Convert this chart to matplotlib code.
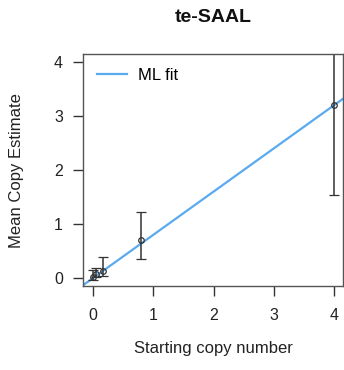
import numpy as np
import matplotlib
matplotlib.use('Agg')
from matplotlib import pyplot as plt

plt.rcParams['font.family'] = ['Liberation Sans', 'DejaVu Sans']

# data
start_copies = [0.0, 0.05, 0.16, 0.8, 4.0]
mean_est = [0.02, 0.07, 0.13, 0.7, 3.2]
err_low = [0.05, 0.06, 0.10, 0.35, 1.66]
err_high = [0.13, 0.11, 0.26, 0.52, 1.2]
fit_slope = 0.8
fit_intercept = 0.0

fig = plt.figure(figsize=(3.44, 3.70), dpi=100)
ax = fig.add_axes([83/344, 1-286/370, 260/344, 232/370])

xs = np.array([-0.5, 4.5])
ax.plot(xs, fit_intercept + fit_slope*xs, color='#5aaaf0', lw=1.6, label='ML fit')
ax.errorbar(start_copies, mean_est, yerr=[err_low, err_high], fmt='o', ms=4,
            mfc='none', mec='#333333', ecolor='#333333', elinewidth=1.1,
            capsize=3.6, capthick=1.1, mew=0.9)

ax.set_xlim(-0.17, 4.15)
ax.set_ylim(-0.15, 4.15)
ax.set_xticks([0, 1, 2, 3, 4])
ax.set_yticks([0, 1, 2, 3, 4])
ax.tick_params(labelsize=11.5, length=7.5, width=1, color='#333333',
               labelcolor='#222222')
ax.tick_params(axis='x', pad=8)
ax.tick_params(axis='y', pad=7)
for s in ax.spines.values():
    s.set_color('#555555')
    s.set_linewidth(1)

ax.set_xlabel('Starting copy number', fontsize=12, color='#222222')
ax.set_ylabel('Mean Copy Estimate', fontsize=12, color='#222222')
ax.xaxis.label.set_va('center')
ax.yaxis.label.set_va('center')
ax.xaxis.set_label_coords(0.5, (286-348)/232)
ax.yaxis.set_label_coords((17-83)/260, 0.5 - (171-170)/232)
fig.text(213/344, 1-18/370, 'te-SAAL', fontsize=14, fontweight='bold',
         ha='center', va='center', color='#111111')
ax.legend(loc='center left', bbox_to_anchor=(14/260, (286-75)/232),
          frameon=False, fontsize=12, handlelength=1.8, handletextpad=0.65,
          borderpad=0, borderaxespad=0)

plt.savefig('out.png', dpi=100)
